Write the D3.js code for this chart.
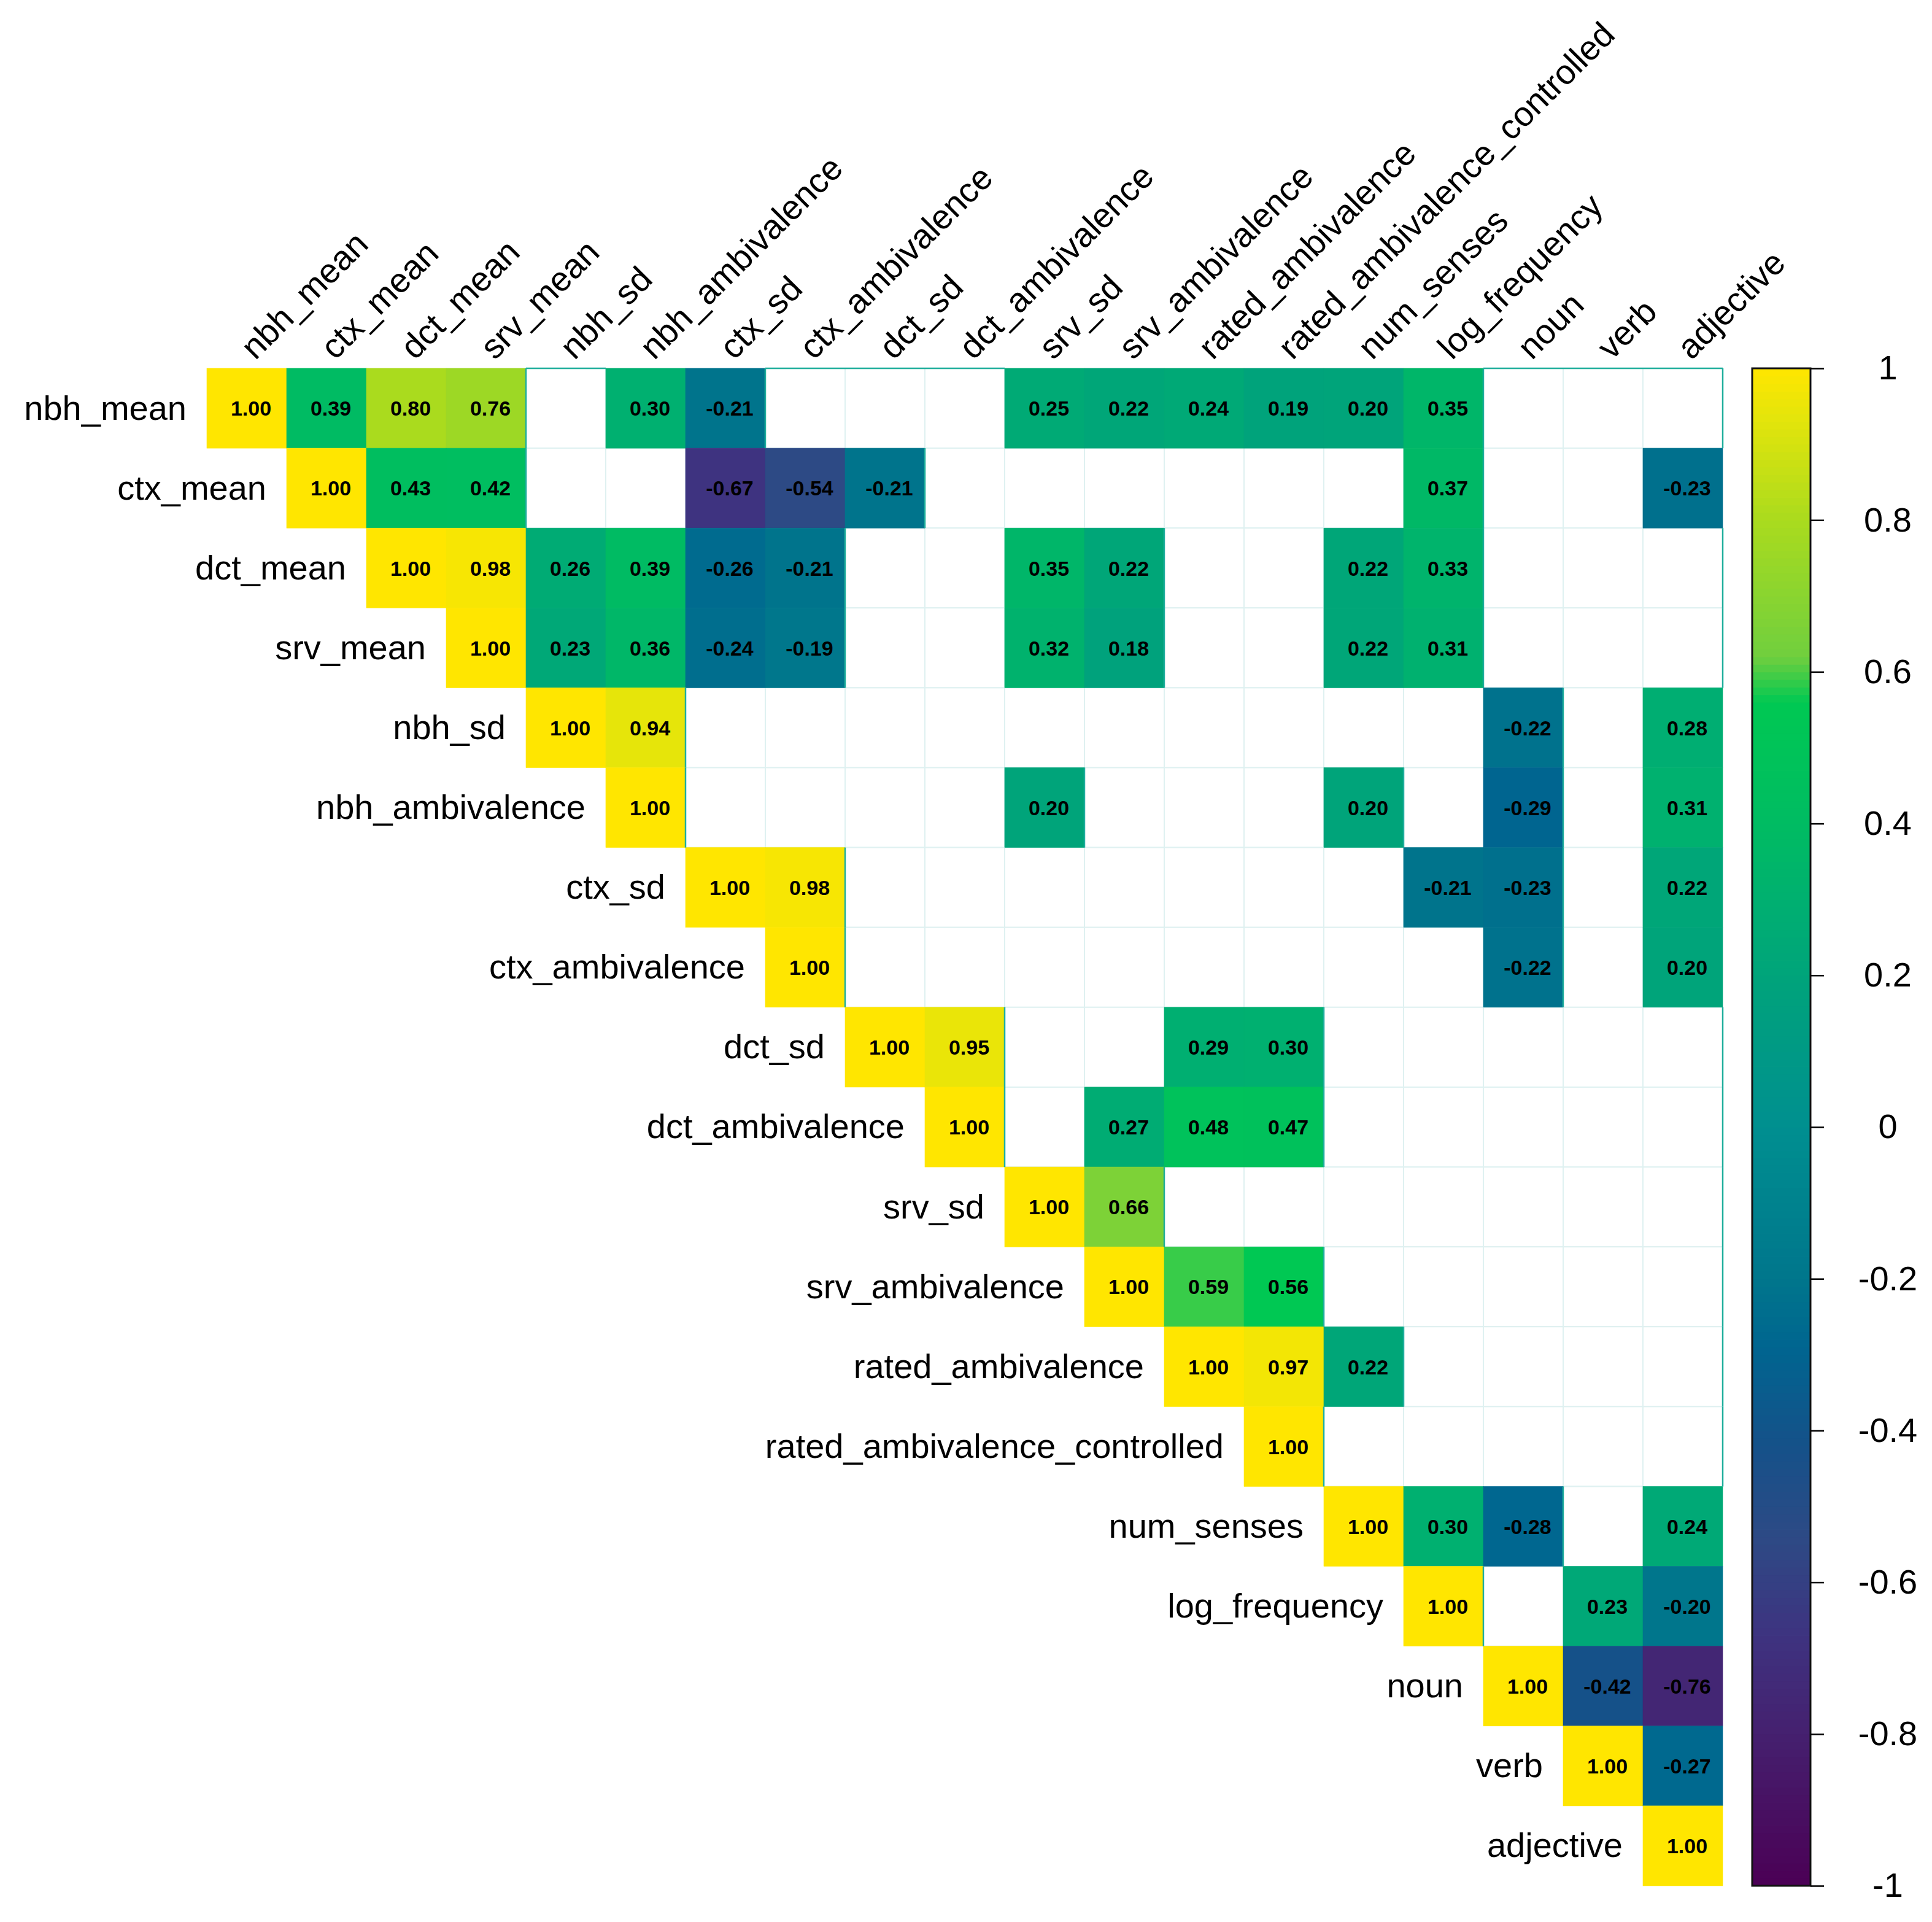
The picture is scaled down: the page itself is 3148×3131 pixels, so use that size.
<!DOCTYPE html>
<html>
<head>
<meta charset="utf-8">
<script src="https://cdn.jsdelivr.net/npm/d3@7"></script>
<style>
  body { margin: 0; background: #fff; }
  text { font-family: "Liberation Sans", Arial, Helvetica, sans-serif; }
</style>
</head>
<body>
<div id="chart"></div>
<script>
// variables, in matrix order
const labels = [
  "nbh_mean", "ctx_mean", "dct_mean", "srv_mean", "nbh_sd", "nbh_ambivalence",
  "ctx_sd", "ctx_ambivalence", "dct_sd", "dct_ambivalence", "srv_sd",
  "srv_ambivalence", "rated_ambivalence", "rated_ambivalence_controlled",
  "num_senses", "log_frequency", "noun", "verb", "adjective"
];

// upper triangle, each row starts at the diagonal; null = not significant (blank)
const corr = [
  [1.00, 0.39, 0.80, 0.76, null, 0.30, -0.21, null, null, null, 0.25, 0.22, 0.24, 0.19, 0.20, 0.35, null, null, null],
  [1.00, 0.43, 0.42, null, null, -0.67, -0.54, -0.21, null, null, null, null, null, null, 0.37, null, null, -0.23],
  [1.00, 0.98, 0.26, 0.39, -0.26, -0.21, null, null, 0.35, 0.22, null, null, 0.22, 0.33, null, null, null],
  [1.00, 0.23, 0.36, -0.24, -0.19, null, null, 0.32, 0.18, null, null, 0.22, 0.31, null, null, null],
  [1.00, 0.94, null, null, null, null, null, null, null, null, null, null, -0.22, null, 0.28],
  [1.00, null, null, null, null, 0.20, null, null, null, 0.20, null, -0.29, null, 0.31],
  [1.00, 0.98, null, null, null, null, null, null, null, -0.21, -0.23, null, 0.22],
  [1.00, null, null, null, null, null, null, null, null, -0.22, null, 0.20],
  [1.00, 0.95, null, null, 0.29, 0.30, null, null, null, null, null],
  [1.00, null, 0.27, 0.48, 0.47, null, null, null, null, null],
  [1.00, 0.66, null, null, null, null, null, null, null],
  [1.00, 0.59, 0.56, null, null, null, null, null],
  [1.00, 0.97, 0.22, null, null, null, null],
  [1.00, null, null, null, null, null],
  [1.00, 0.30, -0.28, null, 0.24],
  [1.00, null, 0.23, -0.20],
  [1.00, -0.42, -0.76],
  [1.00, -0.27],
  [1.00]
];

const legendTicks = [1, 0.8, 0.6, 0.4, 0.2, 0, -0.2, -0.4, -0.6, -0.8, -1];

// colour ramp (viridis-like, as in the original)
const colorStops = [-1, -0.8, -0.67, -0.54, -0.42, -0.29, -0.2, 0, 0.2, 0.3, 0.4, 0.56, 0.62, 0.8, 0.94, 1];
const colorRange = ["#4b0055", "#45206f", "#3e3380", "#2d4a85", "#155189", "#006590", "#00768c",
  "#008f90", "#00a47a", "#00b070", "#00bc62", "#00c853", "#70cf3e", "#aadb1e", "#e6e50a", "#ffe600"];

const W = 3148, H = 3131;
const gridLeft = 337, gridRight = 2807, gridTop = 600, gridBottom = 3072;

const svg = d3.select("#chart")
  .append("svg")
  .attr("width", W)
  .attr("height", H)
  .style("background", "#fff");

const x = d3.scaleBand().domain(labels).range([gridLeft, gridRight]);
const y = d3.scaleBand().domain(labels).range([gridTop, gridBottom]);
const color = d3.scaleLinear().domain(colorStops).range(colorRange).clamp(true);
const bw = x.bandwidth(), bh = y.bandwidth();
const n = labels.length;

const cells = [];
corr.forEach((row, r) => row.forEach((v, k) => cells.push({ r: r, c: r + k, v: v })));
const valueAt = (r, c) => (c >= r && c < n) ? corr[r][c - r] : undefined;

// blank cells with light grid
svg.append("g")
  .selectAll("rect")
  .data(cells.filter(d => d.v === null))
  .enter()
  .append("rect")
  .attr("x", d => x(labels[d.c]))
  .attr("y", d => y(labels[d.r]))
  .attr("width", bw)
  .attr("height", bh)
  .attr("fill", "#fff")
  .attr("stroke", "#dff1f1")
  .attr("stroke-width", 2);

// coloured cells
svg.append("g")
  .selectAll("rect")
  .data(cells.filter(d => d.v !== null))
  .enter()
  .append("rect")
  .attr("x", d => x(labels[d.c]))
  .attr("y", d => y(labels[d.r]))
  .attr("width", bw)
  .attr("height", bh)
  .attr("fill", d => color(d.v))
  .attr("stroke", d => color(d.v))
  .attr("stroke-width", 0.6);

// thin teal edges left on blank cells
const edges = [];
cells.filter(d => d.v === null).forEach(d => {
  const x0 = x(labels[d.c]), y0 = y(labels[d.r]);
  if (d.r === 0) edges.push([x0, y0, x0 + bw, y0]);
  if (d.c === n - 1) edges.push([x0 + bw, y0, x0 + bw, y0 + bh]);
  const left = valueAt(d.r, d.c - 1);
  if (left !== undefined && left !== null) edges.push([x0, y0, x0, y0 + bh]);
});
svg.append("g")
  .selectAll("line")
  .data(edges)
  .enter()
  .append("line")
  .attr("x1", d => d[0]).attr("y1", d => d[1])
  .attr("x2", d => d[2]).attr("y2", d => d[3])
  .attr("stroke", "#1fae9c")
  .attr("stroke-width", 2.5);

// numbers
svg.append("g")
  .selectAll("text")
  .data(cells.filter(d => d.v !== null))
  .enter()
  .append("text")
  .attr("x", d => x(labels[d.c]) + bw / 2 + 7)
  .attr("y", d => y(labels[d.r]) + bh / 2)
  .attr("dy", "0.36em")
  .attr("text-anchor", "middle")
  .attr("font-size", 34)
  .attr("font-weight", "bold")
  .attr("fill", "#000")
  .text(d => d.v.toFixed(2));

// row labels
svg.append("g")
  .selectAll("text")
  .data(labels)
  .enter()
  .append("text")
  .attr("x", d => x(d) - 33)
  .attr("y", d => y(d) + bh / 2)
  .attr("dy", "0.33em")
  .attr("text-anchor", "end")
  .attr("font-size", 56)
  .attr("fill", "#000")
  .text(d => d);

// column labels, rotated
svg.append("g")
  .selectAll("text")
  .data(labels)
  .enter()
  .append("text")
  .attr("transform", d => "translate(" + (x(d) + bw / 2 + 14) + "," + (gridTop - 12) + ")rotate(-45)")
  .attr("text-anchor", "start")
  .attr("font-size", 56)
  .attr("fill", "#000")
  .text(d => d);

// colour legend
const legX = 2855, legW = 95;
const yLeg = d3.scaleLinear().domain([-1, 1]).range([gridBottom, gridTop]);
const steps = d3.range(-1, 1, 0.01);
svg.append("g")
  .selectAll("rect")
  .data(steps)
  .enter()
  .append("rect")
  .attr("x", legX)
  .attr("y", d => yLeg(d + 0.01))
  .attr("width", legW)
  .attr("height", d => yLeg(d) - yLeg(d + 0.01) + 0.8)
  .attr("fill", d => color(d + 0.005));

svg.append("rect")
  .attr("x", legX)
  .attr("y", gridTop)
  .attr("width", legW)
  .attr("height", gridBottom - gridTop)
  .attr("fill", "none")
  .attr("stroke", "#111")
  .attr("stroke-width", 3);

const legAxis = svg.append("g")
  .attr("transform", "translate(" + (legX + legW) + ",0)")
  .call(d3.axisRight(yLeg).tickValues(legendTicks).tickSize(22).tickFormat(d => String(d)));
legAxis.select(".domain").remove();
legAxis.selectAll(".tick line").attr("stroke", "#000").attr("stroke-width", 2.5);
legAxis.selectAll(".tick text")
  .attr("x", 3076 - legX - legW)
  .attr("text-anchor", "middle")
  .attr("font-size", 56)
  .attr("font-family", "'Liberation Sans', Arial, sans-serif")
  .attr("fill", "#000");
</script>
</body>
</html>
